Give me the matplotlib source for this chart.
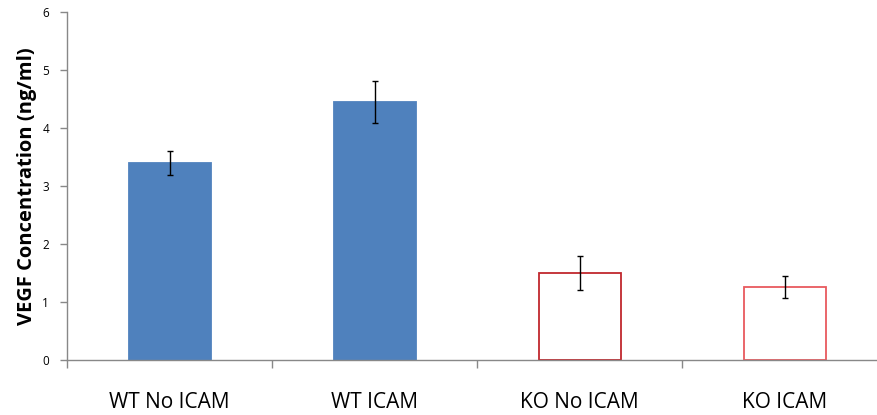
import matplotlib
matplotlib.use("Agg")
import matplotlib.pyplot as plt

categories = ["WT No ICAM", "WT ICAM", "KO No ICAM", "KO ICAM"]
values = [3.40, 4.46, 1.50, 1.27]
errors = [0.20, 0.36, 0.29, 0.19]
face_colors = ["#4F81BD", "#4F81BD", "white", "white"]
edge_colors = ["#4F81BD", "#4F81BD", "#C0272D", "#E8595E"]
yticks = [0, 1, 2, 3, 4, 5, 6]

plt.rcParams["font.family"] = ["Open Sans", "DejaVu Sans"]

W, H = 877, 415
fig = plt.figure(figsize=(W / 100, H / 100), dpi=100)
# axes runs past the right edge of the figure
left, right, bottom, top = 67, 887, 360.3, 12.3
ax = fig.add_axes([left / W, 1 - bottom / H, (right - left) / W, (bottom - top) / H])

x = list(range(len(categories)))
ax.bar(x, values, width=0.4, color=face_colors, edgecolor=edge_colors,
       linewidth=1.3, zorder=2)
ax.errorbar(x, values, yerr=errors, fmt="none", ecolor="black",
            elinewidth=1.0, capsize=2.4, capthick=1.0, zorder=3)

ax.set_xlim(-0.5, len(categories) - 0.5)
ax.set_ylim(0, 6)
ax.set_yticks(yticks)
ax.set_yticklabels([str(t) for t in yticks], fontsize=8.5)

# category labels, with tick marks between categories
ax.set_xticks(x)
ax.set_xticklabels(categories, fontsize=15)
ax.tick_params(axis="x", length=0, pad=23)
ax.set_xticks([i + 0.5 for i in range(-1, len(categories))], minor=True)
ax.tick_params(axis="x", which="minor", length=6, color="#888888", width=1)
ax.tick_params(axis="y", length=5, color="#888888", width=1, pad=8)

for s in ["top", "right"]:
    ax.spines[s].set_visible(False)
for s in ["left", "bottom"]:
    ax.spines[s].set_color("#888888")
    ax.spines[s].set_linewidth(1)

ax.set_ylabel("VEGF Concentration (ng/ml)", fontsize=14.5, fontweight="bold", labelpad=4)

fig.savefig("out.png", dpi=100)
